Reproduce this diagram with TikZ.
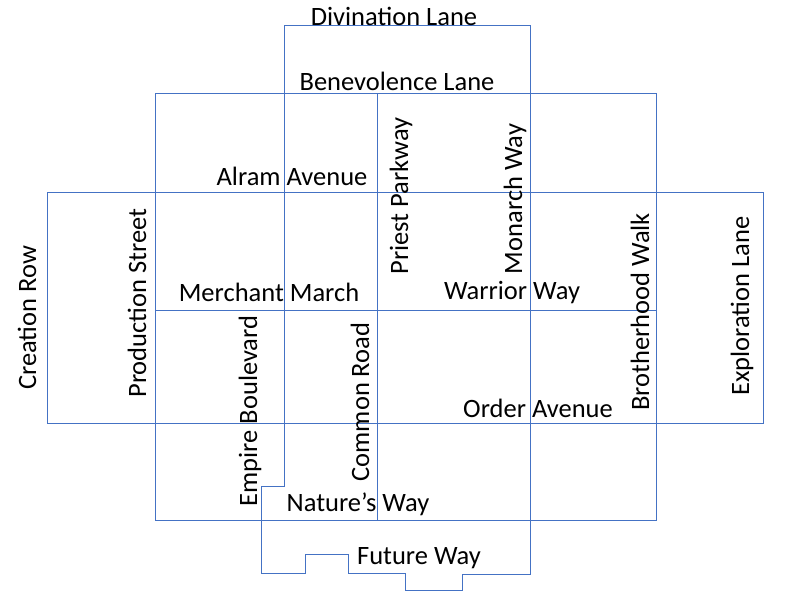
\documentclass[tikz,border=0pt]{standalone}
\usepackage{fontspec}
\setmainfont{Carlito}
\definecolor{road}{RGB}{68,114,196}
\begin{document}
\begin{tikzpicture}[x=1pt,y=-1pt,
  ln/.style={draw=road,line width=0.8pt,line join=miter},
  lbl/.style={font=\fontsize{26.5}{28}\selectfont,inner sep=0pt},
  vl/.style={lbl,rotate=90}]
\useasboundingbox (0,0) rectangle (786,600);
\draw[ln] (155,93) rectangle (656,520);
\draw[ln] (47,192) rectangle (763,423);
\draw[ln] (155,310) -- (656,310);
\draw[ln] (377,93) -- (377,520);
\draw[ln] (284,93) -- (284,25) -- (530,25) -- (530,93);
\draw[ln] (284,93) -- (284,486) -- (261,486) -- (261,573) -- (305,573) -- (305,554) -- (348,554) -- (348,573) -- (405,573) -- (405,590) -- (462,590) -- (462,574) -- (530,574) -- (530,93);
\node[lbl] (div) at (394,16) {Divination Lane};
\node[lbl] (ben) at (397,81) {Benevolence Lane};
\node[lbl] (alr) at (292,176) {Alram Avenue};
\node[lbl] (mer) at (269,292) {Merchant March};
\node[lbl] (war) at (512,293) {Warrior Way};
\node[lbl] (ord) at (538,408) {Order Avenue};
\node[lbl] (nat) at (358,504) {Nature’s Way};
\node[lbl] (fut) at (419,558) {Future Way};
\node[vl] (pri) at (401,196) {Priest Parkway};
\node[vl] (mon) at (515,199) {Monarch Way};
\node[vl] (pro) at (137,303) {Production Street};
\node[vl] (cre) at (27,318) {Creation Row};
\node[vl] (emp) at (250,411) {Empire Boulevard};
\node[vl] (com) at (360,402) {Common Road};
\node[vl] (bro) at (640,312) {Brotherhood Walk};
\node[vl] (exp) at (742,306) {Exploration Lane};
\end{tikzpicture}
\end{document}
